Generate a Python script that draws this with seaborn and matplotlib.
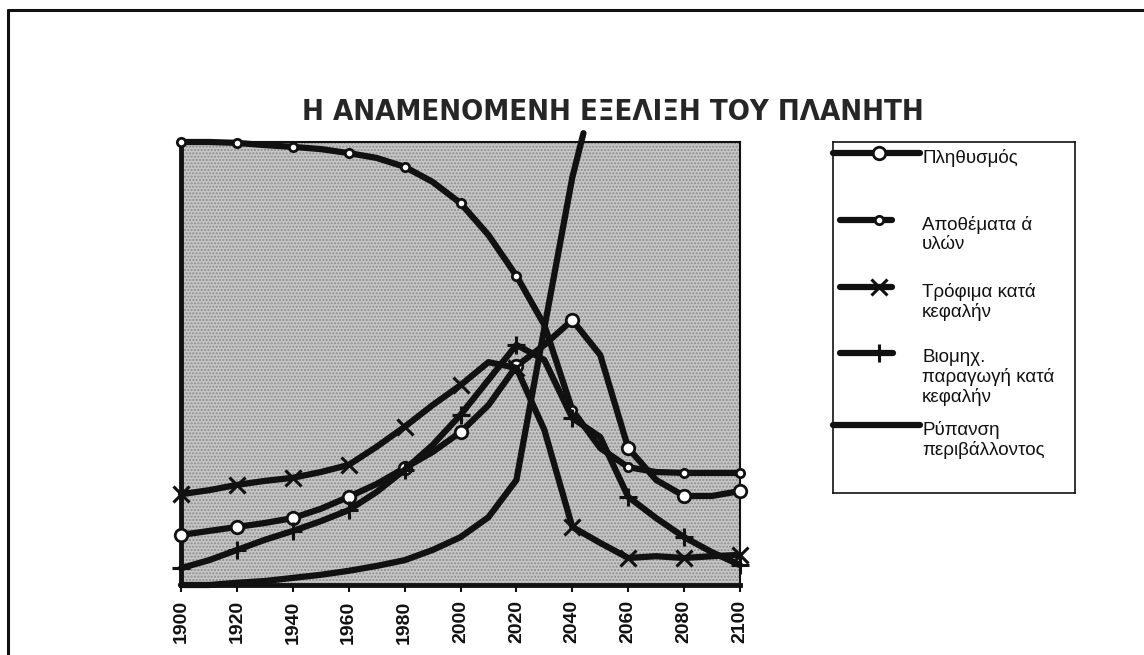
import pandas as pd
import matplotlib.pyplot as plt
from matplotlib.lines import Line2D
import seaborn as sns

# readings taken off the scanned chart (0-100 relative scale, y axis unlabeled)
years = list(range(1900, 2101, 10))
population = [11.3, 12.2, 13.1, 14.0, 15.1, 17.2, 19.9, 22.8, 26.4, 30.0, 34.5,
              40.6, 49.4, 54.2, 59.8, 51.9, 30.9, 23.7, 20.1, 20.1, 21.2]
resources = [100, 100, 99.8, 99.3, 98.9, 98.4, 97.5, 96.4, 94.4, 91.0, 86.2,
             79.0, 69.8, 58.7, 39.5, 30.9, 26.6, 25.5, 25.3, 25.3, 25.3]
food = [20.5, 21.4, 22.6, 23.5, 24.2, 25.5, 27.1, 31.2, 35.7, 40.6, 45.1,
        50.3, 49.0, 35.0, 13.1, 9.5, 6.1, 6.5, 6.1, 6.5, 6.8]
industry = [3.8, 5.6, 7.9, 10.2, 12.2, 14.4, 16.9, 21.0, 26.0, 31.6, 38.4,
            46.3, 54.2, 50.8, 37.7, 33.4, 19.9, 15.1, 10.8, 7.4, 4.5]
pollution_years = [1900, 1910, 1920, 1930, 1940, 1950, 1960, 1970, 1980,
                   1990, 2000, 2010, 2020, 2030, 2040, 2044]
pollution = [0, 0, 0.5, 0.9, 1.6, 2.3, 3.2, 4.3, 5.6, 7.9, 10.8, 15.3, 23.7,
             58.0, 92.0, 102.0]

tick_years = list(range(1900, 2101, 20))

title = 'Η ΑΝΑΜΕΝΟΜΕΝΗ ΕΞΕΛΙΞΗ ΤΟΥ ΠΛΑΝΗΤΗ'
labels = ['Πληθυσμός', 'Αποθέματα ά\nυλών', 'Τρόφιμα κατά\nκεφαλήν',
          'Βιομηχ.\nπαραγωγή κατά\nκεφαλήν', 'Ρύπανση\nπεριβάλλοντος']

sns.set_style('white')
plt.rcParams['font.family'] = ['Liberation Sans', 'DejaVu Sans']
plt.rcParams['hatch.linewidth'] = 1.0

W, H = 1144, 655
fig = plt.figure(figsize=(W / 100, H / 100), dpi=100)
ax = fig.add_axes([181 / W, 1 - 585 / H, 559 / W, 443 / H])
ax.set_facecolor('#c6c6c6')
# halftone-like dotted fill of the scanned plot area
ax.patch.set_hatch('.....')
ax.patch.set_edgecolor('#8c8c8c')

ink = '#111111'
common = dict(color=ink, linewidth=4.5, clip_on=False, legend=False, ax=ax)

# marker styles per series (markers every 20 years)
styles = [
    (population, dict(marker='o', markersize=9, mfc='white', mec=ink, mew=2)),
    (resources, dict(marker='o', markersize=6, mfc='white', mec=ink, mew=2)),
    (food, dict(marker='x', markersize=11, mec=ink, mew=2.2)),
    (industry, dict(marker='+', markersize=13, mec=ink, mew=2.2)),
]
for values, mk in styles:
    df = pd.DataFrame({'Έτος': years, 'Τιμή': values})
    sns.lineplot(data=df, x='Έτος', y='Τιμή', markevery=2, zorder=3, **mk, **common)

pol = pd.DataFrame({'Έτος': pollution_years, 'Τιμή': pollution})
sns.lineplot(data=pol, x='Έτος', y='Τιμή', zorder=2, **common)

ax.set_xlim(1900, 2100)
ax.set_ylim(0, 100)
ax.set_xticks(tick_years)
ax.set_xticklabels([str(y) for y in tick_years], rotation=90,
                   fontsize=14, fontweight='bold')
ax.set_yticks([])
ax.set_xlabel('')
ax.set_ylabel('')
ax.tick_params(axis='x', direction='out', length=5, width=1.5, pad=6,
               colors=ink, bottom=True)
for side in ['left', 'bottom']:
    ax.spines[side].set_linewidth(3.5)
    ax.spines[side].set_color(ink)
for side in ['top', 'right']:
    ax.spines[side].set_linewidth(1.5)
    ax.spines[side].set_color(ink)

fig.text(613 / W, 1 - 112 / H, title, ha='center', va='center',
         fontsize=21, fontweight='bold', fontstretch='condensed',
         family=['Liberation Sans Narrow', 'DejaVu Sans'])

# legend box drawn by hand: handle sits level with the first text line
lax = fig.add_axes([833 / W, 1 - 493 / H, 242 / W, 351 / H])
lax.set_xlim(833, 1075)
lax.set_ylim(493, 142)
lax.set_xticks([])
lax.set_yticks([])
lax.patch.set_alpha(0)
for s in lax.spines.values():
    s.set_linewidth(1.2)
    s.set_color(ink)

handle_y = [153, 220, 287, 353, 425]
handle_x = [(833, 920), (840, 892), (840, 892), (840, 893), (833, 920)]
handle_mk = [styles[0][1], styles[1][1], styles[2][1], styles[3][1], {}]
for lab, hy, (x0, x1), mk in zip(labels, handle_y, handle_x, handle_mk):
    lax.add_line(Line2D([x0, x1], [hy, hy], color=ink, linewidth=4.5,
                        clip_on=False))
    if mk:
        lax.add_line(Line2D([879], [hy], linestyle='none', clip_on=False, **mk))
    lax.text(x1 + 2 if x1 > 900 else 922, hy - 4, lab, ha='left', va='top',
             fontsize=13.5, color=ink, linespacing=1.15)

# outer frame of the scanned page
fig.add_artist(Line2D([8 / W, 1], [1 - 10 / H, 1 - 10 / H], color=ink, lw=2.2))
fig.add_artist(Line2D([8 / W, 8 / W], [0, 1 - 10 / H], color=ink, lw=2.2))

fig.savefig('out.png', dpi=100, facecolor='white')
